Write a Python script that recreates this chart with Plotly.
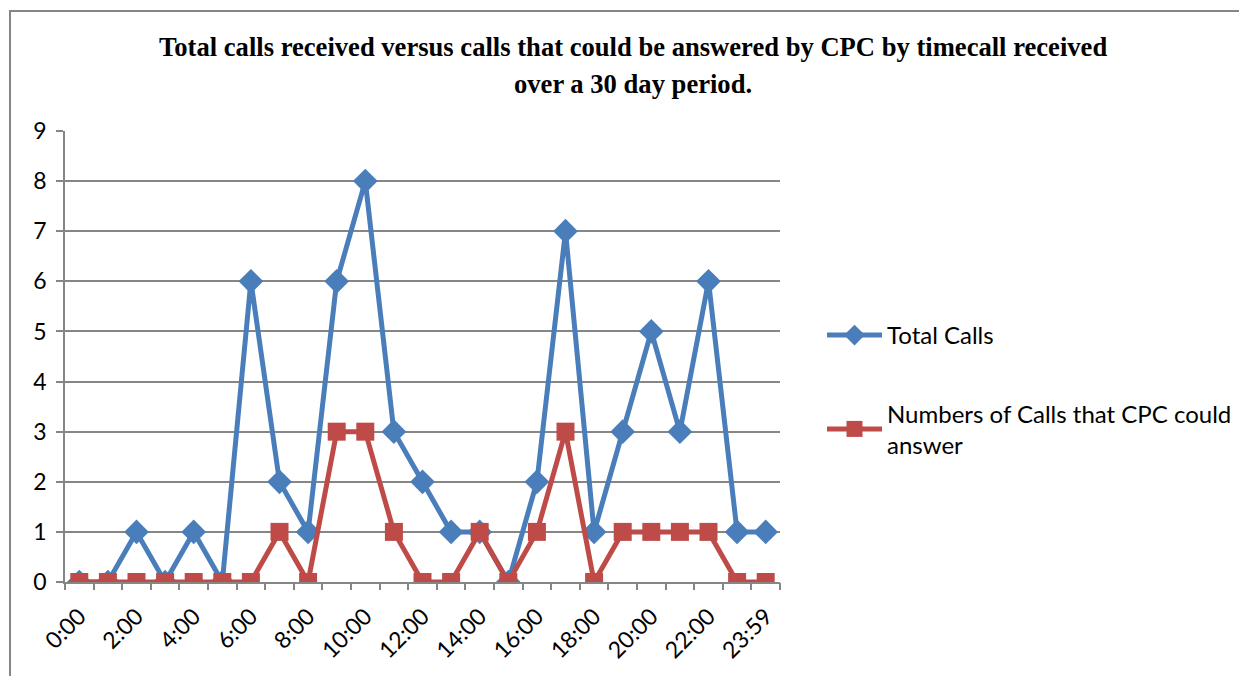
import plotly.graph_objects as go

hours = ["0:00", "1:00", "2:00", "3:00", "4:00", "5:00", "6:00", "7:00", "8:00", "9:00",
         "10:00", "11:00", "12:00", "13:00", "14:00", "15:00", "16:00", "17:00", "18:00",
         "19:00", "20:00", "21:00", "22:00", "23:00", "23:59"]
total_calls = [0, 0, 1, 0, 1, 0, 6, 2, 1, 6, 8, 3, 2, 1, 1, 0, 2, 7, 1, 3, 5, 3, 6, 1, 1]
cpc_calls = [0, 0, 0, 0, 0, 0, 0, 1, 0, 3, 3, 1, 0, 0, 1, 0, 1, 3, 0, 1, 1, 1, 1, 0, 0]
tick_labels = hours[::2]
title_lines = ["Total calls received versus calls that could be answered by CPC by timecall received",
               "over a 30 day period."]

BLUE = "#4A7EBB"
RED = "#BE4B48"
GRAY = "#868686"
FONT = "Lato"

W, H = 1239, 668
L, T = 57, 123
PW, PH = 715, 451

fig = go.Figure()
fig.add_trace(go.Scatter(x=hours, y=total_calls, name="Total Calls", mode="lines+markers",
                         line=dict(color=BLUE, width=5),
                         marker=dict(symbol="diamond", size=19, color=BLUE),
                         legendgroup="a"))
fig.add_trace(go.Scatter(x=hours, y=cpc_calls, name="Numbers of Calls that CPC could<br>answer",
                         mode="lines+markers",
                         line=dict(color=RED, width=5),
                         marker=dict(symbol="square", size=18, color=RED),
                         legendgroup="b"))
# invisible trace carrying the boundary tick marks axis
fig.add_trace(go.Scatter(x=hours, y=total_calls, xaxis="x2", mode="none",
                         showlegend=False, hoverinfo="skip"))

title_y = [39, 76]  # line centres in figure pixels
annotations = [dict(text="<b>" + t + "</b>", xref="paper", yref="paper",
                    x=(625 - L) / PW, y=(T + PH - yc) / PH,
                    xanchor="center", yanchor="middle", showarrow=False,
                    font=dict(family="Liberation Serif", size=26.6, color="black"))
               for t, yc in zip(title_lines, title_y)]

fig.update_layout(
    width=W, height=H,
    paper_bgcolor="white", plot_bgcolor="white",
    margin=dict(l=L, r=W - L - PW, t=T, b=H - T - PH, autoexpand=False),
    xaxis=dict(type="category", categoryorder="array", categoryarray=hours,
               range=[-0.5, len(hours) - 0.5],
               tickmode="array", tickvals=tick_labels, ticktext=tick_labels,
               tickangle=-45, ticks="", showgrid=False, ticklabelstandoff=10,
               showline=True, linecolor=GRAY, linewidth=1.5,
               tickfont=dict(family=FONT, size=23, color="black")),
    xaxis2=dict(type="category", categoryorder="array", categoryarray=hours,
                range=[-0.5, len(hours) - 0.5], overlaying="x", side="bottom",
                tickson="boundaries", ticks="outside", ticklen=7, tickwidth=1.5,
                tickcolor=GRAY, showticklabels=False, showgrid=False,
                showline=False, anchor="y"),
    yaxis=dict(range=[0, 9], dtick=1, showgrid=True, gridcolor=GRAY, gridwidth=1.5,
               ticks="outside", ticklen=7, tickwidth=1.5, tickcolor=GRAY,
               showline=True, linecolor=GRAY, linewidth=1.5, zeroline=False,
               ticklabelstandoff=5,
               tickfont=dict(family=FONT, size=23, color="black")),
    legend=dict(xref="container", x=814 / W, yref="container", y=1 - 305 / H,
                yanchor="top", xanchor="left",
                font=dict(family=FONT, size=24, color="black"),
                tracegroupgap=44, itemwidth=55),
    showlegend=True,
    annotations=annotations,
    shapes=[dict(type="rect", xref="paper", yref="paper",
                 x0=(2 - L) / PW, x1=(1235 - L) / PW, y0=-(H - T - PH + 20) / PH,
                 y1=(T + PH - 3) / PH, line=dict(color=GRAY, width=2),
                 fillcolor="rgba(0,0,0,0)", layer="below")],
)

fig.write_html("out.html")
